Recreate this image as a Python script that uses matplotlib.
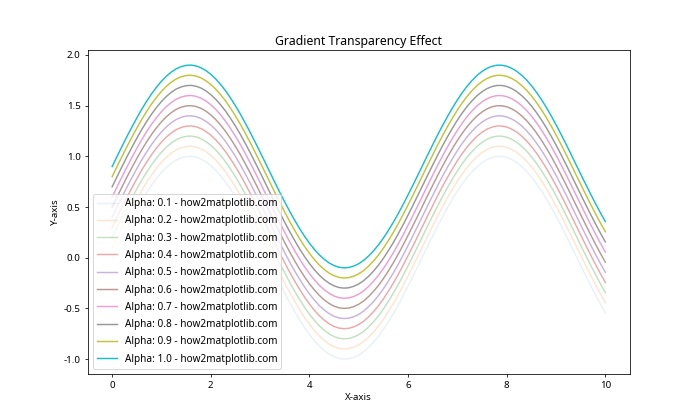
import matplotlib
matplotlib.use("Agg")
import matplotlib.pyplot as plt

plt.rcParams["font.family"] = ["Noto Sans", "DejaVu Sans"]
plt.rcParams["axes.unicode_minus"] = False

# base curve (x step 0.1)
x_vals = [i * 0.1 for i in range(101)]
base_vals = [0.000, 0.100, 0.199, 0.296, 0.389, 0.479, 0.565, 0.644, 0.717, 0.783,
             0.841, 0.891, 0.932, 0.964, 0.985, 0.997, 1.000, 0.992, 0.974, 0.946,
             0.909, 0.863, 0.808, 0.746, 0.675, 0.598, 0.516, 0.427, 0.335, 0.239,
             0.141, 0.042, -0.058, -0.158, -0.256, -0.351, -0.443, -0.530, -0.612, -0.688,
             -0.757, -0.818, -0.872, -0.916, -0.952, -0.978, -0.994, -1.000, -0.996, -0.982,
             -0.959, -0.926, -0.883, -0.832, -0.773, -0.706, -0.631, -0.551, -0.465, -0.374,
             -0.279, -0.182, -0.083, 0.017, 0.117, 0.215, 0.312, 0.405, 0.494, 0.578,
             0.657, 0.729, 0.794, 0.850, 0.899, 0.938, 0.968, 0.988, 0.999, 0.999,
             0.989, 0.969, 0.940, 0.901, 0.854, 0.798, 0.734, 0.663, 0.585, 0.501,
             0.412, 0.319, 0.223, 0.124, 0.024, -0.075, -0.174, -0.271, -0.366, -0.457,
             -0.544]
offsets = [0.0, 0.1, 0.2, 0.3, 0.4, 0.5, 0.6, 0.7, 0.8, 0.9]
alphas = [0.1, 0.2, 0.3, 0.4, 0.5, 0.6, 0.7, 0.8, 0.9, 1.0]

fig, ax = plt.subplots(figsize=(10, 6), dpi=70)

for off, a in zip(offsets, alphas):
    ax.plot(x_vals, [v + off for v in base_vals], alpha=a,
            label=f"Alpha: {a:.1f} - how2matplotlib.com")

ax.set_title("Gradient Transparency Effect", fontsize=12.6)
ax.set_xlabel("X-axis")
ax.set_ylabel("Y-axis")
ax.legend(loc="lower left", fontsize=10.3, labelspacing=0.63)

plt.savefig("out.png", dpi=70)
